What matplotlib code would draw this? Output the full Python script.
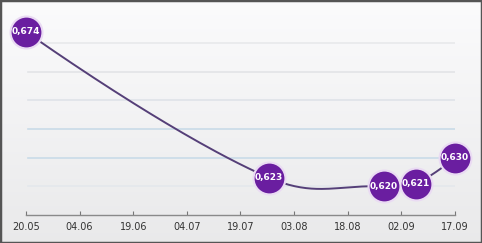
import numpy as np
import matplotlib
matplotlib.use("Agg")
import matplotlib.pyplot as plt
from datetime import date

# data
point_dates = ["20.05", "27.07", "28.08", "06.09", "17.09"]
point_values = [0.674, 0.623, 0.620, 0.621, 0.630]
tick_dates = ["20.05", "04.06", "19.06", "04.07", "19.07", "03.08", "18.08", "02.09", "17.09"]
grid_values = [0.620, 0.630, 0.640, 0.650, 0.660, 0.670]


def to_day(s):
    d, m = s.split(".")
    return (date(2012, int(m), int(d)) - date(2012, 5, 20)).days


def spline(x, y, n=60):
    # bezier spline with control points like the web chart libs do it
    k = 1.5
    lc = [(x[i], y[i]) for i in range(len(x))]
    rc = [(x[i], y[i]) for i in range(len(x))]
    for i in range(1, len(x) - 1):
        lx = (k * x[i] + x[i - 1]) / (k + 1)
        ly = (k * y[i] + y[i - 1]) / (k + 1)
        rx = (k * x[i] + x[i + 1]) / (k + 1)
        ry = (k * y[i] + y[i + 1]) / (k + 1)
        corr = (ry - ly) * (rx - x[i]) / (rx - lx) + y[i] - ry
        lc[i] = (lx, ly + corr)
        rc[i] = (rx, ry + corr)
    xs, ys = [], []
    t = np.linspace(0, 1, n)
    for i in range(len(x) - 1):
        p0 = (x[i], y[i])
        p1 = rc[i]
        p2 = lc[i + 1]
        p3 = (x[i + 1], y[i + 1])
        for j, out in ((0, xs), (1, ys)):
            out.append((1 - t) ** 3 * p0[j] + 3 * (1 - t) ** 2 * t * p1[j]
                       + 3 * (1 - t) * t ** 2 * p2[j] + t ** 3 * p3[j])
    return np.concatenate(xs), np.concatenate(ys)


x = np.array([to_day(s) for s in point_dates], dtype=float)
y = np.array(point_values)
tx = [to_day(s) for s in tick_dates]

W, H = 482, 243
fig = plt.figure(figsize=(W / 100, H / 100), dpi=100)

# background gradient and frame
bg = fig.add_axes([0, 0, 1, 1])
grad = np.linspace(0.985, 0.915, 256).reshape(-1, 1)
bg.imshow(np.dstack([grad, grad, grad * 1.005]).clip(0, 1), aspect="auto",
          extent=[0, 1, 0, 1])
bg.set_xlim(0, 1)
bg.set_ylim(0, 1)
bg.axis("off")
bg.add_patch(plt.Rectangle((0, 0), 1, 1, fill=False, edgecolor="#555555",
                           linewidth=2.5, transform=bg.transAxes))

ax = fig.add_axes([26 / W, (H - 215) / H, (455 - 26) / W, (215 - 14) / H])
ax.patch.set_alpha(0)
ax.set_xlim(0, 120)
ax.set_ylim(0.610, 0.610 + 201 / 2863.0)

colors = ["#e4e8ec", "#c9dbe8", "#c9dbe8", "#dfe3e8", "#e2e4e7", "#e8e9eb"]
for g, c in zip(grid_values, colors):
    ax.axhline(g, xmin=0.005, xmax=1, color=c, linewidth=1.2, zorder=1)

sx, sy = spline(x, y)
ax.plot(sx, sy, color="#553f78", linewidth=1.4, zorder=2, clip_on=False)

ax.scatter(x, y, s=600, color="#eadbf3", zorder=3, clip_on=False, linewidths=0)
ax.scatter(x, y, s=460, color="#6a1ea0", zorder=4, clip_on=False, linewidths=0)
for xi, yi in zip(x, y):
    ax.text(xi, yi, ("%.3f" % yi).replace(".", ","), color="white", fontsize=6.5,
            fontweight="bold", ha="center", va="center", zorder=5, clip_on=False)

for s in ["top", "right", "left"]:
    ax.spines[s].set_visible(False)
ax.spines["bottom"].set_color("#8a8a8a")
ax.spines["bottom"].set_linewidth(1)
ax.set_yticks([])
ax.set_xticks(tx)
ax.set_xticklabels(tick_dates)
ax.tick_params(axis="x", direction="in", length=3, color="#777777",
               labelsize=7, labelcolor="#333333", pad=5)

fig.savefig("out.png", dpi=100)
